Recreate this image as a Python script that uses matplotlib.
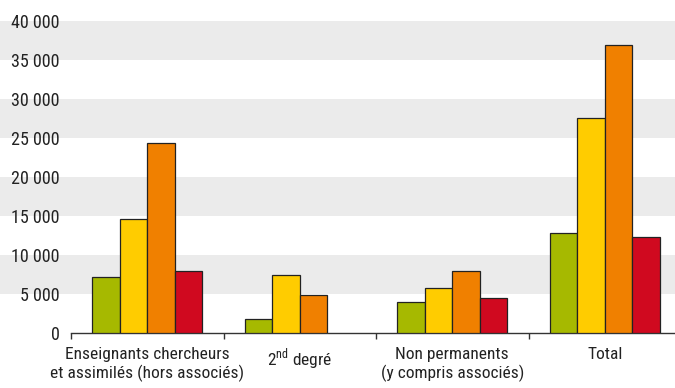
import matplotlib.pyplot as plt
import matplotlib.transforms as mtransforms
from matplotlib.patches import Rectangle
import numpy as np

# données
categories = ['Enseignants chercheurs\net assimilés (hors associés)',
              r'2$^{\mathrm{nd}}$ degré',
              'Non permanents\n(y compris associés)',
              'Total']
serie_1 = [7200, 1750, 3900, 12800]
serie_2 = [14600, 7400, 5800, 27600]
serie_3 = [24400, 4800, 7950, 36900]
serie_4 = [7950, 0, 4400, 12300]
yticks = [0, 5000, 10000, 15000, 20000, 25000, 30000, 35000, 40000]
ytick_labels = ['0', '5 000', '10 000', '15 000', '20 000', '25 000', '30 000', '35 000', '40 000']

colors = ['#a6b900', '#ffcc00', '#f08000', '#d0091f']

fam = 'Roboto Condensed'
plt.rcParams['font.family'] = [fam, 'DejaVu Sans']
plt.rcParams['mathtext.fontset'] = 'custom'
plt.rcParams['mathtext.rm'] = fam

fig = plt.figure(figsize=(6.75, 3.88), dpi=100)
ax = fig.add_axes([71/675, 1 - 332.7/388, 1 - 71/675, (332.7 - 21)/388])

# bandes grises sur toute la largeur
trans = mtransforms.blended_transform_factory(fig.transFigure, ax.transData)
for y0 in [5000, 15000, 25000, 35000]:
    ax.add_patch(Rectangle((0, y0), 1, 5000, transform=trans, facecolor='#ebebeb',
                           edgecolor='none', zorder=0, clip_on=False))

x = np.arange(len(categories))
w = 0.18
for i, (vals, c) in enumerate(zip([serie_1, serie_2, serie_3, serie_4], colors)):
    vals = np.array(vals, dtype=float)
    m = vals > 0
    ax.bar(x[m] + (i - 1.5) * w, vals[m], width=w, color=c, edgecolor='#222222',
           linewidth=0.9, zorder=3)

ax.set_xlim(-0.5, -0.5 + 604/152.5)
ax.set_ylim(0, 40000)

for s in ['top', 'right', 'left']:
    ax.spines[s].set_visible(False)
ax.spines['bottom'].set_color('#333333')
ax.spines['bottom'].set_linewidth(1.0)
ax.set_facecolor('none')
fig.patch.set_facecolor('white')

ax.set_yticks(yticks)
ax.set_yticklabels(ytick_labels, fontsize=13, color='#222222')
ax.tick_params(axis='y', length=0, pad=8)

ax.set_xticks(x)
ax.set_xticklabels(categories, fontsize=12.5, color='#222222', linespacing=1.2)
ax.tick_params(axis='x', which='major', length=0, pad=10)
ax.set_xticks([-0.5, 0.5, 1.5, 2.5], minor=True)
ax.tick_params(axis='x', which='minor', length=4, width=1, color='#333333', direction='out')

fig.savefig('out.png', dpi=100)
